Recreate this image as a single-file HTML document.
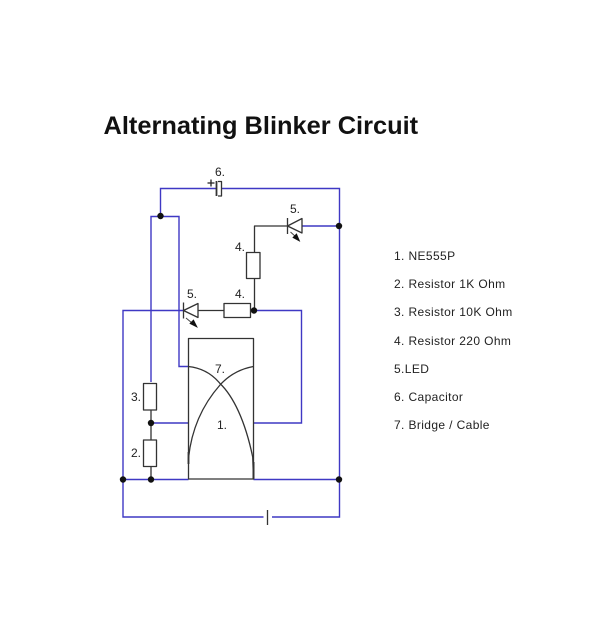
<!DOCTYPE html>
<html><head><meta charset="utf-8">
<style>
html,body{margin:0;padding:0;background:#fff;width:611px;height:620px;overflow:hidden}
svg{display:block}
text{font-family:"Liberation Sans",Arial,sans-serif;fill:#222}
.l{font-size:12px;letter-spacing:.38px}
.n{font-size:12px}
</style></head>
<body>
<svg width="611" height="620" viewBox="0 0 611 620" xmlns="http://www.w3.org/2000/svg">
<rect width="611" height="620" fill="#fff"/>
<text x="103.500" y="134" font-size="25.400" font-weight="700" style="fill:#111">Alternating Blinker Circuit</text>

<g fill="none" stroke="#3f38c4" stroke-width="1.400">
<path d="M216 188.500H160.500V216.500"/>
<path d="M222 188.500H339.500V517H272"/>
<path d="M339.500 226H302"/>
<path d="M263.500 517H123V310.500H183"/>
<path d="M151 382V216.500H179V366.500H188.500"/>
<path d="M254.500 310.500H301.500V423H253.500"/>
<path d="M151 423H188.500"/>
<path d="M123 479.500H188.500"/>
<path d="M253.500 479.500H339.500"/>
</g>

<g fill="none" stroke="#333" stroke-width="1.300" stroke-linejoin="round">
<path d="M287 226H254.500V252"/>
<path d="M254.500 278V310.500"/>
<path d="M251 310.500H254.500"/>
<path d="M224 310.500H198"/>
<path d="M151 410V440"/>
<path d="M151 466V479.500"/>
<rect x="188.500" y="338.500" width="65" height="140.500"/>
<rect x="246.500" y="252.500" width="13.500" height="26"/>
<rect x="224" y="303.500" width="26.500" height="14"/>
<rect x="143.500" y="383.500" width="13" height="26.500"/>
<rect x="143.500" y="440" width="13" height="26.500"/>
<path d="M183.500 302.500V318.500M198 303.500V317.500L183.500 310.500Z"/>
<path d="M287.500 218V234M302 218.500V233L287.500 226Z"/>
<path d="M216.500 181V196" stroke-width="1.800"/>
<path d="M218 181.500H221.500V196H218"/>
<path d="M267.500 510V525"/>
<path d="M207.500 183h7M211 179.500v7" stroke="#222"/>
<path d="M188.300 366.500C203 368 213 375 220 383.500C233 396 245 420 252.700 457L253.500 479"/>
<path d="M253.300 366.500C240 369 229 375 220 385C205 402 192 425 188.500 458V464"/>
<path d="M188.500 452V464" stroke-width="1.800"/>
<path d="M253.500 462V479" stroke-width="2"/>
</g>

<g fill="#111">
<circle cx="160.500" cy="216" r="3.200"/>
<circle cx="339" cy="226" r="3.200"/>
<circle cx="254" cy="310.500" r="3.200"/>
<circle cx="151" cy="423" r="3.200"/>
<circle cx="151" cy="479.500" r="3.200"/>
<circle cx="123" cy="479.500" r="3.200"/>
<circle cx="339" cy="479.500" r="3.200"/>
<path d="M186 318L192 323" stroke="#444" stroke-width="1" fill="none"/>
<path d="M197 327L190 323.500L193.500 320Z" stroke="#111" stroke-width=".8"/>
<path d="M290.500 232L296 237" stroke="#444" stroke-width="1" fill="none"/>
<path d="M299.500 241L293 237.500L296.500 234Z" stroke="#111" stroke-width=".8"/>
</g>

<g class="n">
<text class="n" x="215" y="176">6.</text>
<text class="n" x="290" y="213">5.</text>
<text class="n" x="235" y="251">4.</text>
<text class="n" x="187" y="298">5.</text>
<text class="n" x="235" y="298">4.</text>
<text class="n" x="215" y="373">7.</text>
<text class="n" x="131" y="401">3.</text>
<text class="n" x="217" y="429">1.</text>
<text class="n" x="131" y="457">2.</text>
</g>

<text class="l" x="394" y="260">1. NE555P</text>
<text class="l" x="394" y="288">2. Resistor 1K Ohm</text>
<text class="l" x="394" y="316">3. Resistor 10K Ohm</text>
<text class="l" x="394" y="345">4. Resistor 220 Ohm</text>
<text class="l" x="394" y="373">5.LED</text>
<text class="l" x="394" y="401">6. Capacitor</text>
<text class="l" x="394" y="429">7. Bridge / Cable</text>
</svg>
</body></html>
